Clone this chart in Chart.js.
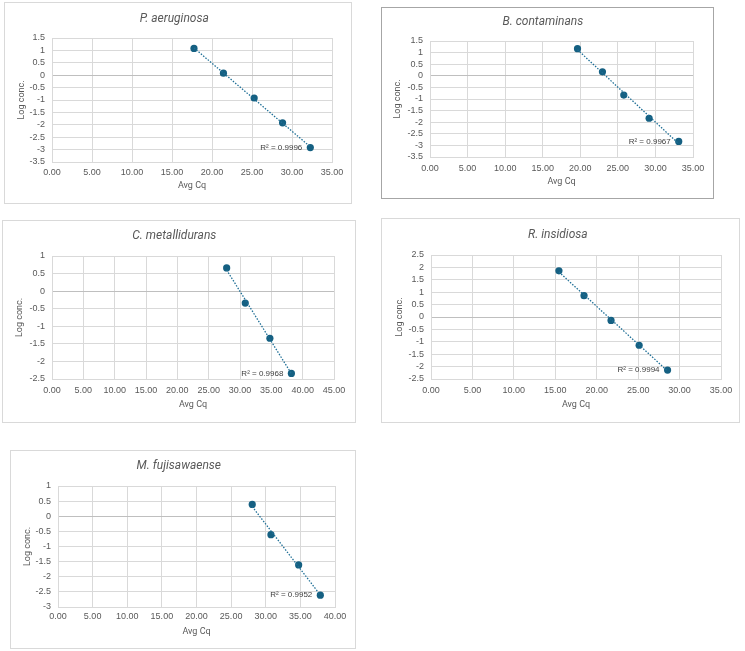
<!DOCTYPE html>
<html>
<head>
<meta charset="utf-8">
<script src="https://cdn.jsdelivr.net/npm/chart.js@4.4.1/dist/chart.umd.min.js"></script>
<style>
html, body { margin: 0; padding: 0; background: #fff; }
body { width: 745px; height: 651px; position: relative; overflow: hidden; }
canvas { position: absolute; }
</style>
</head>
<body>
<canvas id="c0"></canvas>
<canvas id="c1"></canvas>
<canvas id="c2"></canvas>
<canvas id="c3"></canvas>
<canvas id="c4"></canvas>
<script>
// chart titles and R² labels as printed
var titles = ['P. aeruginosa', 'B. contaminans', 'C. metallidurans', 'R. insidiosa', 'M. fujisawaense'];
var r2Labels = ['R\u00b2 = 0.9996', 'R\u00b2 = 0.9967', 'R\u00b2 = 0.9968', 'R\u00b2 = 0.9994', 'R\u00b2 = 0.9952'];

// Avg Cq (x) and log conc. (y)
var cqPae = [17.75, 21.43, 25.27, 28.82, 32.29];
var logPae = [1.08, 0.08, -0.92, -1.92, -2.92];

var cqBco = [19.63, 22.95, 25.79, 29.16, 33.10];
var logBco = [1.17, 0.17, -0.83, -1.83, -2.83];

var cqCme = [27.87, 30.84, 34.77, 38.20];
var logCme = [0.66, -0.34, -1.34, -2.34];

var cqRin = [15.44, 18.47, 21.73, 25.12, 28.55];
var logRin = [1.86, 0.86, -0.14, -1.14, -2.14];

var cqMfu = [28.05, 30.75, 34.75, 37.88];
var logMfu = [0.39, -0.61, -1.61, -2.61];

// axis ranges
var xMax = [35, 35, 45, 35, 40];
var yMin = [-3.5, -3.5, -2.5, -2.5, -3];
var yMax = [1.5, 1.5, 1, 2.5, 1];

var xs = [cqPae, cqBco, cqCme, cqRin, cqMfu];
var ys = [logPae, logBco, logCme, logRin, logMfu];

// where each chart box sits on the page
var boxes = [
    {x: 4, y: 2, w: 348, h: 202, pl: 52, pr: 332, pt: 38, pb: 162, titleY: 19, tickY: 173, axisY: 186, axisX: 22, border: '#d9d9d9'},
    {x: 381, y: 7, w: 333, h: 192, pl: 430, pr: 693, pt: 41, pb: 157, titleY: 22, tickY: 169, axisY: 182, axisX: 398, border: '#a6a6a6'},
    {x: 2, y: 220, w: 354, h: 203, pl: 52, pr: 334, pt: 256, pb: 379, titleY: 236, tickY: 391, axisY: 405, axisX: 20, border: '#d9d9d9'},
    {x: 381, y: 218, w: 359, h: 205, pl: 431, pr: 721, pt: 255, pb: 379, titleY: 235, tickY: 391, axisY: 405, axisX: 400, border: '#d9d9d9'},
    {x: 10, y: 450, w: 346, h: 199, pl: 58, pr: 335, pt: 486, pb: 607, titleY: 466, tickY: 617, axisY: 632, axisX: 28, border: '#d9d9d9'}
];

var markColor = '#156082';
var trendColor = '#1f6f96';
var textColor = '#595959';
var tickFont = {family: "'Liberation Sans Narrow', 'Liberation Sans', sans-serif", size: 9, lineHeight: 1.2};
var axisFont = {family: "Roboto, sans-serif", size: 9, lineHeight: 1.2};
var titleFont = {family: "Roboto, sans-serif", size: 12, style: 'italic', weight: 'normal', lineHeight: 1.2};

function linFit(x, y) {
    var n = x.length, sx = 0, sy = 0, sxy = 0, sxx = 0;
    for (var i = 0; i < n; i++) { sx += x[i]; sy += y[i]; sxy += x[i] * y[i]; sxx += x[i] * x[i]; }
    var b = (n * sxy - sx * sy) / (n * sxx - sx * sx);
    var a = (sy - b * sx) / n;
    return {a: a, b: b};
}

var boxAndLabel = {
    id: 'boxAndLabel',
    beforeDraw: function(chart, args, opts) {
        var c = chart.ctx;
        c.save();
        c.strokeStyle = opts.border;
        c.lineWidth = 1;
        c.strokeRect(0.5, 0.5, chart.width - 1, chart.height - 1);
        c.restore();
    },
    afterDatasetsDraw: function(chart, args, opts) {
        var meta = chart.getDatasetMeta(1);
        var last = meta.data[meta.data.length - 1];
        var c = chart.ctx;
        c.save();
        c.font = "8px 'Liberation Sans Narrow', 'Liberation Sans', sans-serif";
        c.fillStyle = '#404040';
        c.textAlign = 'right';
        c.textBaseline = 'middle';
        c.fillText(opts.text, last.x - 8, last.y);
        c.restore();
    }
};

for (var k = 0; k < 5; k++) {
    var b = boxes[k];
    var cv = document.getElementById('c' + k);
    cv.width = b.w; cv.height = b.h;
    cv.style.left = b.x + 'px'; cv.style.top = b.y + 'px';
    cv.style.width = b.w + 'px'; cv.style.height = b.h + 'px';

    var pts = xs[k].map(function(v, i) { return {x: v, y: ys[k][i]}; });
    var fit = linFit(xs[k], ys[k]);
    var x0 = Math.min.apply(null, xs[k]), x1 = Math.max.apply(null, xs[k]);
    var trend = [{x: x0, y: fit.a + fit.b * x0}, {x: x1, y: fit.a + fit.b * x1}];

    var padL = b.axisX - b.x - 5.4;
    var yW = b.pl - b.x - padL;
    var padR = b.x + b.w - b.pr;
    var xH = b.axisY + 5.4 - b.pb;
    var padB = b.y + b.h - (b.axisY + 5.4);
    var tPadTop = b.titleY - b.y - 7.2;
    var tPadBot = b.pt - b.titleY - 7.2;
    var xTickPad = b.tickY - b.pb - 5.4;

    new Chart(cv.getContext('2d'), {
        type: 'scatter',
        data: {
            datasets: [
                {data: trend, showLine: true, borderColor: trendColor, borderWidth: 1.3, borderDash: [1.5, 1.5], pointRadius: 0, fill: false},
                {data: pts, backgroundColor: markColor, borderColor: markColor, pointRadius: 3.6, borderWidth: 0}
            ]
        },
        options: {
            responsive: false,
            animation: false,
            devicePixelRatio: 1,
            layout: {padding: {left: padL, right: padR, top: 0, bottom: padB}},
            plugins: {
                legend: {display: false},
                tooltip: {enabled: false},
                title: {display: true, text: titles[k], color: textColor, font: titleFont, padding: {top: tPadTop, bottom: tPadBot}},
                boxAndLabel: {border: b.border, text: r2Labels[k]}
            },
            scales: {
                x: {
                    type: 'linear', min: 0, max: xMax[k],
                    ticks: {stepSize: 5, color: textColor, font: tickFont, padding: xTickPad, autoSkip: false, maxRotation: 0,
                        callback: function(v) { return v.toFixed(2); }},
                    grid: {color: '#d9d9d9', drawTicks: false},
                    border: {display: true, color: '#d9d9d9'},
                    title: {display: true, text: 'Avg Cq', color: textColor, font: axisFont, padding: 0},
                    afterFit: (function(h) { return function(s) { s.height = h; }; })(xH)
                },
                y: {
                    min: yMin[k], max: yMax[k],
                    ticks: {stepSize: 0.5, color: textColor, font: tickFont, padding: 7, autoSkip: false,
                        callback: function(v) { return String(v); }},
                    grid: {color: function(ctx) { return ctx.tick && ctx.tick.value === 0 ? '#bfbfbf' : '#d9d9d9'; }, drawTicks: false},
                    border: {display: true, color: '#d9d9d9'},
                    title: {display: true, text: 'Log conc.', color: textColor, font: axisFont, padding: 0},
                    afterFit: (function(w) { return function(s) { s.width = w; }; })(yW)
                }
            }
        },
        plugins: [boxAndLabel]
    });
}
</script>
</body>
</html>
